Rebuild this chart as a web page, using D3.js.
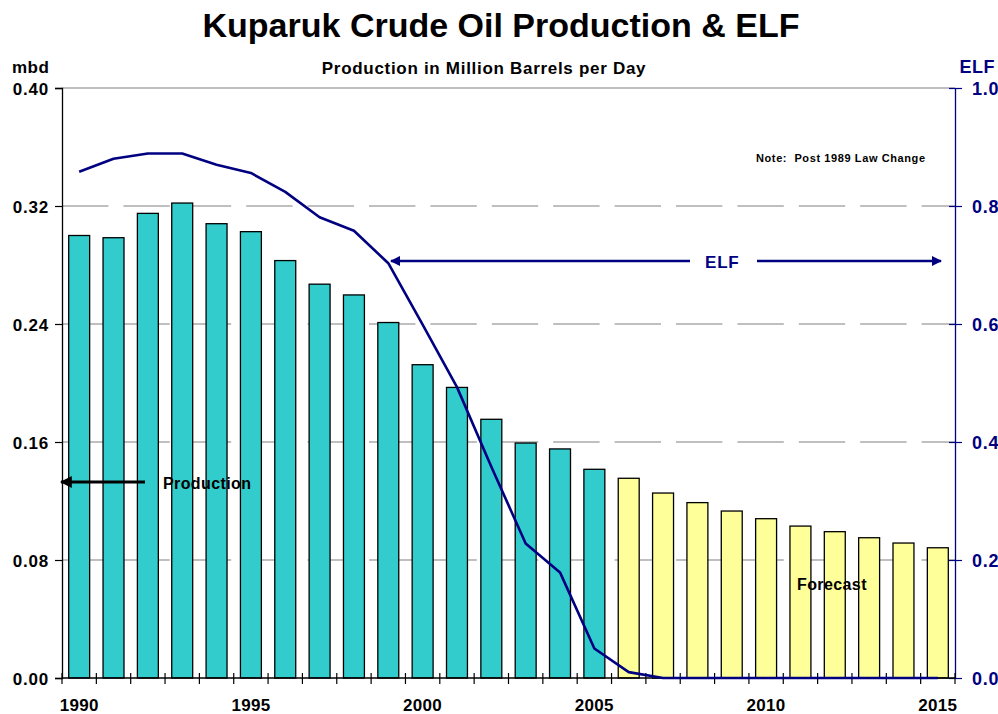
<!DOCTYPE html>
<html><head><meta charset="utf-8">
<script src="https://cdn.jsdelivr.net/npm/d3@7"></script>
<style>body{margin:0;background:#fff}svg{display:block;font-family:Arial,"Liberation Sans",sans-serif}</style>
</head><body><svg id="c" width="998" height="714"></svg>
<script>
const years = d3.range(1990, 2016);
const production = [0.300,0.2985,0.315,0.322,0.308,0.3026,0.283,0.267,0.2597,0.241,0.2124,0.197,0.1754,0.1593,0.1553,0.1415,0.1354,0.1254,0.1189,0.1132,0.108,0.103,0.0992,0.0951,0.0915,0.0883];
const forecastStart = 2006;
const elf = [0.858,0.880,0.889,0.889,0.870,0.856,0.824,0.781,0.758,0.703,0.599,0.493,0.358,0.228,0.179,0.050,0.010,0,0,0,0,0,0,0,0,0];
const leftTicks = [0,0.08,0.16,0.24,0.32,0.40];
const rightTicks = [0,0.2,0.4,0.6,0.8,1.0];
const yearLabels = [1990,1995,2000,2005,2010,2015];

const svg = d3.select("#c");
const L=62,R=955,T=88,B=678;
const FF="Arial,'Liberation Sans',sans-serif";
const x = d3.scaleBand().domain(years).range([L,R]).paddingInner(0.39).paddingOuter(0.195);
const xb = d3.scaleBand().domain(years).range([L,R]);
const y = d3.scaleLinear().domain([0,0.4]).range([B,T]);
const y2 = d3.scaleLinear().domain([0,1]).range([B,T]);
const navy="#000080";

// title
svg.append("text").attr("x",501).attr("y",37).attr("text-anchor","middle").attr("font-size",34).attr("font-weight","bold").text("Kuparuk Crude Oil Production & ELF");
svg.append("text").attr("x",484).attr("y",74).attr("text-anchor","middle").attr("font-size",17).attr("letter-spacing",0.7).attr("font-weight","bold").text("Production in Million Barrels per Day");
svg.append("text").attr("x",12).attr("y",73).attr("font-size",17).attr("letter-spacing",0.5).attr("font-weight","bold").text("mbd");
svg.append("text").attr("x",995).attr("y",73).attr("text-anchor","end").attr("font-size",18).attr("letter-spacing",0.5).attr("font-weight","bold").attr("fill",navy).text("ELF");

// gridlines
svg.append("g").selectAll("line").data(leftTicks.filter(d=>d>0)).join("line")
  .attr("x1",L).attr("x2",R).attr("y1",d=>y(d)).attr("y2",d=>y(d))
  .attr("stroke","#808080").attr("stroke-width",1.2)
  .attr("stroke-dasharray",d=>d===0.4?null:"46.4,15");

// bars
svg.append("g").selectAll("rect").data(years).join("rect")
  .attr("x",d=>x(d)).attr("width",x.bandwidth())
  .attr("y",(d,i)=>y(production[i])).attr("height",(d,i)=>B-y(production[i]))
  .attr("fill",d=>d>=forecastStart?"#FFFF99":"#33CCCC").attr("stroke","#000").attr("stroke-width",1.3);

// left axis
const gl = svg.append("g").attr("transform",`translate(${L},0)`).call(d3.axisLeft(y).tickValues(leftTicks).tickFormat(d3.format(".2f")).tickSize(7).tickPadding(6));
gl.select(".domain").attr("stroke","#000").attr("stroke-width",1.3);
gl.selectAll(".tick line").attr("stroke","#000").attr("stroke-width",1.2);
gl.selectAll("text").attr("font-size",17).attr("letter-spacing",0.8).attr("font-weight","bold").attr("font-family",FF).attr("fill","#000").attr("dy","0.36em");

// right axis
const gr = svg.append("g").attr("transform",`translate(${R},0)`).call(d3.axisRight(y2).tickValues(rightTicks).tickFormat(d3.format(".1f")).tickSizeInner(7).tickSizeOuter(0).tickPadding(10));
gr.select(".domain").attr("stroke",navy).attr("stroke-width",1.3);
gr.selectAll(".tick line").attr("stroke",navy).attr("stroke-width",1.2).attr("x1",-6);
gr.selectAll("text").attr("font-size",18).attr("letter-spacing",0.8).attr("font-weight","bold").attr("font-family",FF).attr("fill",navy).attr("dy","0.36em");

// bottom axis line & ticks
svg.append("line").attr("x1",L).attr("x2",R).attr("y1",B).attr("y2",B).attr("stroke","#000").attr("stroke-width",1.3);
const bounds = years.map(d=>xb(d)).concat([R]);
svg.append("g").selectAll("line").data(bounds).join("line")
  .attr("x1",d=>d).attr("x2",d=>d).attr("y1",B-5).attr("y2",B+6).attr("stroke","#000").attr("stroke-width",1.2);
svg.append("g").selectAll("text").data(yearLabels).join("text")
  .attr("x",d=>xb(d)+xb.bandwidth()/2).attr("y",711).attr("text-anchor","middle")
  .attr("font-size",17).attr("letter-spacing",0.3).attr("font-weight","bold").text(d=>d);

// ELF line
svg.append("path").datum(years).attr("fill","none").attr("stroke",navy).attr("stroke-width",2.6).attr("stroke-linejoin","round")
  .attr("d",d3.line().x(d=>xb(d)+xb.bandwidth()/2).y((d,i)=>y2(elf[i])));

// arrow markers
const defs = svg.append("defs");
[["ab","#000"],["an",navy]].forEach(([id,c])=>{
  defs.append("marker").attr("id",id).attr("viewBox","0 0 10 10").attr("refX",9).attr("refY",5)
   .attr("markerWidth",4).attr("markerHeight",4).attr("orient","auto-start-reverse").attr("markerUnits","strokeWidth")
   .append("path").attr("d","M0,0L10,5L0,10z").attr("fill",c);
});
svg.append("line").attr("x1",145).attr("x2",61).attr("y1",482).attr("y2",482).attr("stroke","#000").attr("stroke-width",3).attr("marker-end","url(#ab)");
svg.append("text").attr("x",163).attr("y",489).attr("font-size",16).attr("letter-spacing",0.4).attr("font-weight","bold").text("Production");

svg.append("line").attr("x1",690).attr("x2",391).attr("y1",261).attr("y2",261).attr("stroke",navy).attr("stroke-width",2.6).attr("marker-end","url(#an)");
svg.append("line").attr("x1",757).attr("x2",941).attr("y1",261).attr("y2",261).attr("stroke",navy).attr("stroke-width",2.6).attr("marker-end","url(#an)");
svg.append("text").attr("x",705).attr("y",268).attr("font-size",17).attr("letter-spacing",0.8).attr("font-weight","bold").attr("fill",navy).text("ELF");

svg.append("text").attr("x",756).attr("y",162).attr("font-size",11).attr("letter-spacing",0.6).attr("font-weight","bold").attr("xml:space","preserve").text("Note:  Post 1989 Law Change");
svg.append("text").attr("x",797).attr("y",590).attr("font-size",16).attr("letter-spacing",0.4).attr("font-weight","bold").text("Forecast");
</script></body></html>
